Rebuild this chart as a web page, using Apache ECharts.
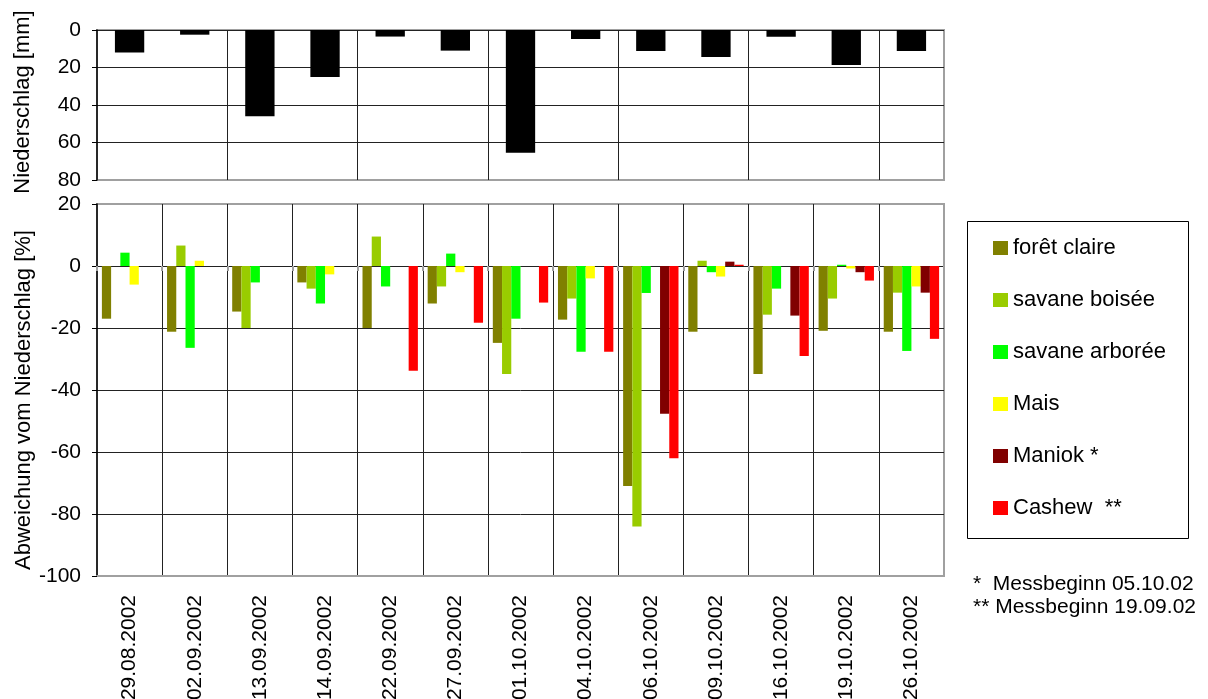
<!DOCTYPE html>
<html>
<head>
<meta charset="utf-8">
<script src="https://cdn.jsdelivr.net/npm/echarts@6/dist/echarts.min.js"></script>
<style>
html,body{margin:0;padding:0;background:#fff;}
#c{width:1208px;height:699px;}
</style>
</head>
<body>
<div id="c"></div>
<script>
const categories = ['29.08.2002','02.09.2002','13.09.2002','14.09.2002','22.09.2002','27.09.2002','01.10.2002','04.10.2002','06.10.2002','09.10.2002','16.10.2002','19.10.2002','26.10.2002'];
const niederschlag = [12, 2.5, 46, 25, 3.5, 11, 65.5, 4.8, 11.2, 14.4, 3.6, 18.6, 11.2];
const foretClaire = [-17, -21.2, -14.7, -5.3, -20, -12.1, -24.8, -17.3, -71, -21.2, -34.8, -20.9, -21.2];
const savaneBoisee = [null, 6.6, -20, -7.3, 9.5, -6.6, -34.8, -10.5, -84, 1.7, -15.7, -10.5, -8.6];
const savaneArboree = [4.3, -26.4, -5.3, -12.1, -6.6, 4, -17, -27.7, -8.7, -2, -7.3, 0.4, -27.4];
const mais = [-6, 1.7, null, -2.7, null, -2, null, -4, null, -3.4, null, -0.8, -6.6];
const maniok = [null, null, null, null, null, null, null, null, -47.7, 1.4, -16, -2, -8.6];
const cashew = [null, null, null, null, -33.8, -18.3, -11.8, -27.7, -62, 0.4, -29, -4.7, -23.5];
const seriesNames = ['forêt claire', 'savane boisée', 'savane arborée', 'Mais', 'Maniok *', 'Cashew  **'];
const seriesColors = ['#808000', '#99cc00', '#00ff00', '#ffff00', '#800000', '#ff0000'];
const seriesData = [foretClaire, savaneBoisee, savaneArboree, mais, maniok, cashew];
const topTicks = [0, 20, 40, 60, 80];
const bottomTicks = [-100, -80, -60, -40, -20, 0, 20];
const topAxisName = 'Niederschlag [mm]';
const bottomAxisName = 'Abweichung vom Niederschlag [%]';
const footnotes = ['*  Messbeginn 05.10.02', '** Messbeginn 19.09.02'];

const FONT = '"Liberation Sans", Arial, sans-serif';
const chart = echarts.init(document.getElementById('c'), null, {renderer: 'canvas'});

const gridL = 97, gridW = 847;
const bottomSeries = seriesNames.map((n, i) => ({
  name: n, type: 'bar', xAxisIndex: 1, yAxisIndex: 1,
  data: seriesData[i], barGap: '0%', barCategoryGap: '15%',
  itemStyle: {color: seriesColors[i]}, animation: false
}));

chart.setOption({
  animation: false,
  textStyle: {fontFamily: FONT},
  grid: [
    {left: gridL, top: 30, width: gridW, height: 150, show: true, borderColor: '#a0a0a0', borderWidth: 2,
     backgroundColor: 'transparent', containLabel: false, outerBoundsMode: 'none'},
    {left: gridL, top: 204, width: gridW, height: 372, show: true, borderColor: '#a0a0a0', borderWidth: 2,
     backgroundColor: 'transparent', containLabel: false, outerBoundsMode: 'none'}
  ],
  xAxis: [
    {type: 'category', gridIndex: 0, data: categories, boundaryGap: true,
     axisLine: {show: false}, axisTick: {show: false}, axisLabel: {show: false},
     splitLine: {show: true, showMinLine: false, showMaxLine: false, lineStyle: {color: '#222', width: 1}}},
    {type: 'category', gridIndex: 1, data: categories, boundaryGap: true, position: 'bottom',
     axisLine: {show: true, onZero: false, lineStyle: {color: '#a0a0a0', width: 2}}, axisTick: {show: false},
     axisLabel: {rotate: 90, fontSize: 21, color: '#000', margin: 19, fontFamily: FONT, interval: 0},
     splitLine: {show: true, showMinLine: false, showMaxLine: false, lineStyle: {color: '#222', width: 1}}},
    {type: 'category', gridIndex: 1, data: categories, boundaryGap: true, position: 'top',
     axisLine: {show: false, onZero: true}, axisLabel: {show: false}, splitLine: {show: false},
     axisTick: {show: true, inside: true, length: 5, interval: 0, lineStyle: {color: '#a0a0a0', width: 2}}}
  ],
  yAxis: [
    {type: 'value', gridIndex: 0, inverse: true, min: topTicks[0], max: topTicks[topTicks.length - 1], interval: 20,
     axisLine: {show: true, lineStyle: {color: '#000', width: 1.5}},
     axisTick: {show: true, length: 5, lineStyle: {color: '#000'}},
     axisLabel: {fontSize: 21, color: '#000', margin: 16, fontFamily: FONT},
     splitLine: {show: true, showMinLine: true, showMaxLine: false, lineStyle: {color: '#222', width: 1}}},
    {type: 'value', gridIndex: 1, min: bottomTicks[0], max: bottomTicks[bottomTicks.length - 1], interval: 20,
     axisLine: {show: true, onZero: false, lineStyle: {color: '#000', width: 1.5}},
     axisTick: {show: true, length: 5, lineStyle: {color: '#000'}},
     axisLabel: {fontSize: 21, color: '#000', margin: 16, fontFamily: FONT},
     splitLine: {show: true, showMinLine: false, showMaxLine: false, lineStyle: {color: '#222', width: 1}}}
  ],
  legend: {
    data: seriesNames, orient: 'vertical', left: 993, top: 237, padding: 0,
    itemWidth: 15, itemHeight: 14, itemGap: 30, icon: 'rect',
    textStyle: {fontSize: 22, color: '#000', fontFamily: FONT, lineHeight: 22},
    selectedMode: false
  },
  graphic: [
    {type: 'rect', shape: {x: 967.5, y: 221.5, width: 221, height: 317}, style: {fill: 'none', stroke: '#000', lineWidth: 1}, z: -1},
    {type: 'text', x: 973, y: 584, style: {text: footnotes[0], font: '21px ' + FONT, fill: '#000', verticalAlign: 'middle'}},
    {type: 'text', x: 973, y: 607, style: {text: footnotes[1], font: '21px ' + FONT, fill: '#000', verticalAlign: 'middle'}},
    {type: 'text', x: 23, y: 102, rotation: Math.PI / 2, style: {text: topAxisName, font: '22px ' + FONT, fill: '#000', align: 'center', verticalAlign: 'middle'}},
    {type: 'text', x: 24, y: 400, rotation: Math.PI / 2, style: {text: bottomAxisName, font: '22px ' + FONT, fill: '#000', align: 'center', verticalAlign: 'middle'}}
  ],
  series: [
    {name: 'Niederschlag', type: 'bar', xAxisIndex: 0, yAxisIndex: 0, data: niederschlag,
     barCategoryGap: '55%', itemStyle: {color: '#000'}, animation: false}
  ].concat(bottomSeries)
});
</script>
</body>
</html>
